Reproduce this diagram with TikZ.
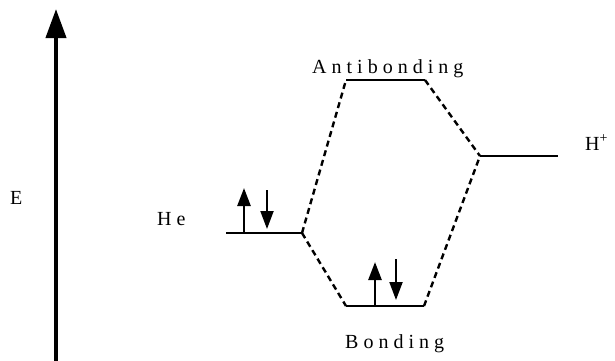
\documentclass[tikz,border=0pt]{standalone}
\usepackage{fontspec}
\setmainfont{Liberation Serif}
\newfontfamily\spaced[LetterSpace=25]{Liberation Serif}
\usetikzlibrary{arrows.meta}
\tikzset{
  level/.style={line width=2pt},
  corr/.style={line width=2.4pt, dash pattern=on 6pt off 4pt},
  spinup/.style={line width=2.6pt, -{Triangle[width=13pt,length=18pt]}},
  spindown/.style={line width=2pt, -{Triangle[width=13pt,length=18pt]}},
  lbl/.style={font=\spaced\fontsize{20}{22}\selectfont, inner sep=0pt, anchor=base west}
}
\begin{document}
\begin{tikzpicture}[x=1pt,y=-1pt]
\useasboundingbox (0,0) rectangle (615,360);
% energy axis
\coordinate (ebot) at (56,362);
\coordinate (etop) at (56,9);
\draw[line width=4pt, -{Triangle[width=20pt,length=29pt]}] (ebot) -- (etop);
\node[lbl] (E) at (10,204) {E};
% levels
\coordinate (heL) at (226,233); \coordinate (heR) at (302,233);
\coordinate (aL) at (346,80);   \coordinate (aR) at (425,80);
\coordinate (hL) at (480,156);  \coordinate (hR) at (558,156);
\coordinate (bL) at (346,306);  \coordinate (bR) at (424,306);
\draw[level] (heL) -- (heR);
\draw[level] (aL) -- (aR);
\draw[level] (hL) -- (hR);
\draw[level] (bL) -- (bR);
% correlation lines
\draw[corr] (heR) -- (aL);
\draw[corr] (heR) -- (bL);
\draw[corr] (aR) -- (hL);
\draw[corr] (bR) -- (hL);
% electrons
\coordinate (u1a) at (244,233); \coordinate (u1b) at (244,188);
\coordinate (d1a) at (267,190); \coordinate (d1b) at (267,229);
\coordinate (u2a) at (375,306); \coordinate (u2b) at (375,262);
\coordinate (d2a) at (396,259); \coordinate (d2b) at (396,300);
\draw[spinup] (u1a) -- (u1b);
\draw[spindown] (d1a) -- (d1b);
\draw[spinup] (u2a) -- (u2b);
\draw[spindown] (d2a) -- (d2b);
% labels
\node[lbl] (He) at (157,225) {He};
\node[lbl] (anti) at (312,73) {Antibonding};
\node[lbl] (bond) at (345,348) {Bonding};
\node[lbl] (hplus) at (585,150) {H\textsuperscript{+}};
\end{tikzpicture}
\end{document}
